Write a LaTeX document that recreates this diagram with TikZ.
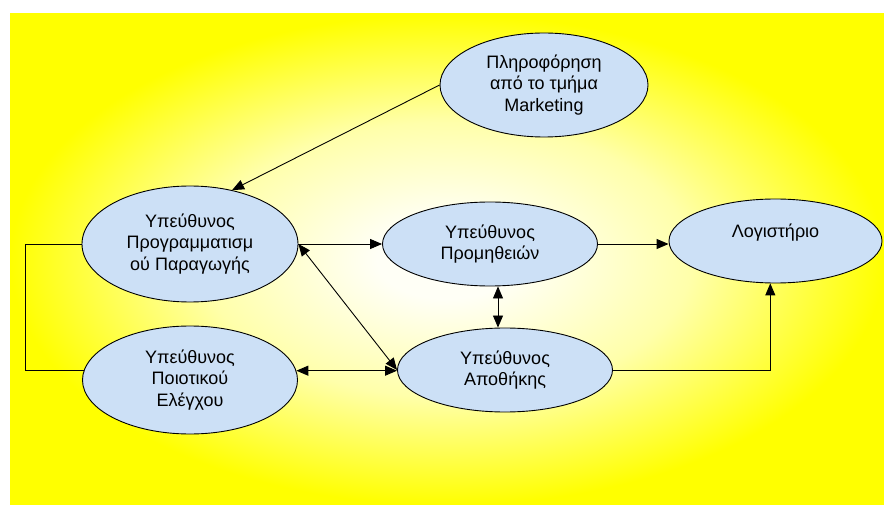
\documentclass[tikz,border=0pt]{standalone}
\usepackage{fontspec}
\setmainfont{Liberation Sans}
\usetikzlibrary{shapes.geometric,arrows.meta}

\definecolor{glowcentre}{RGB}{255,255,246}
\definecolor{glowmid}{RGB}{255,255,170}
\definecolor{glowedge}{RGB}{255,255,0}
\definecolor{bubblefill}{RGB}{204,224,246}

% soft glow: pale in the middle, yellow towards the edges
\pgfdeclareradialshading{glow}{\pgfpoint{0bp}{0bp}}{%
  color(0bp)=(glowcentre); color(4bp)=(glowcentre); color(14bp)=(glowmid);
  color(25bp)=(glowedge); color(50bp)=(glowedge)}

\tikzset{
  bubble/.style={ellipse, draw=black, line width=0.9bp, fill=bubblefill,
    inner sep=0pt, align=center, text=black,
    font=\fontsize{18bp}{21.5bp}\selectfont},
  link/.style={draw=black, line width=0.9bp},
  headtip/.style={-{Triangle[length=12bp,width=10bp]}},
  bothtips/.style={{Triangle[length=12bp,width=10bp]}-{Triangle[length=12bp,width=10bp]}}
}

\begin{document}
\begin{tikzpicture}[x=1bp,y=-1bp]
  \useasboundingbox (0,0) rectangle (884,505);
  \fill[white] (0,0) rectangle (884,505);
  \fill[shading=glow] (10,14) rectangle (884,505);

  % roles
  \node[bubble, minimum width=208bp, minimum height=104bp] (mkt) at (544,85)
    {Πληροφόρηση\\από το τμήμα\\Marketing};
  \node[bubble, minimum width=216bp, minimum height=116bp] (plan) at (190,244)
    {Υπεύθυνος\\Προγραμματισμ\\ού Παραγωγής};
  \node[bubble, minimum width=215bp, minimum height=84bp] (supply) at (490,244)
    {Υπεύθυνος\\Προμηθειών};
  \node[bubble, minimum width=215bp, minimum height=84bp] (store) at (505,370)
    {Υπεύθυνος\\Αποθήκης};
  \node[bubble, minimum width=215bp, minimum height=108bp] (qc) at (190,380)
    {Υπεύθυνος\\Ποιοτικού\\Ελέγχου};
  \node[bubble, minimum width=213bp, minimum height=84bp] (acct) at (775.5,241)
    {Λογιστήριο\\\mbox{}};

  % guide points for the routed lines
  \coordinate (loopx) at (25,0);
  \coordinate (midx) at (498,0);

  % connectors
  \draw[link, headtip] (mkt.west) -- (plan.52);
  \draw[link, headtip] (plan.east) -- (supply.west);
  \draw[link, headtip] (supply.east) -- (supply.east -| acct.west);
  \draw[link, bothtips] (supply.south -| midx) -- (store.north -| midx);
  \draw[link, bothtips] (plan.east) -- (store.west);
  \draw[link, bothtips] (qc.5) -- (qc.5 -| store.west);
  \draw[link, headtip] (store.east) -| (acct.-97);
  \draw[link] (plan.west) -- (plan.west -| loopx) |- (qc.175);
\end{tikzpicture}
\end{document}
